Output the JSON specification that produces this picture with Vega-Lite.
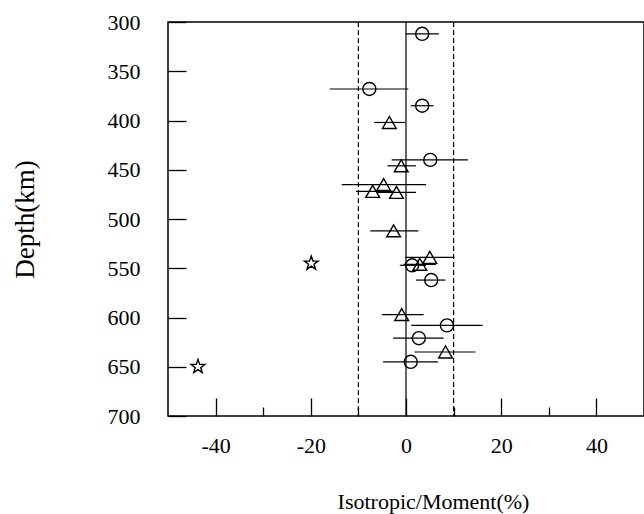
{
  "$schema": "https://vega.github.io/schema/vega-lite/v6.json",
  "width": 476,
  "height": 394,
  "autosize": {"type": "none"},
  "padding": {"left": 168, "top": 22, "right": 0, "bottom": 98},
  "background": "white",
  "config": {
    "view": {"stroke": "#000", "strokeWidth": 1.5},
    "font": "Liberation Serif"
  },
  "datasets": {
    "points": [
      {"type": "circle", "depth": 312, "value": 3.4, "lo": -0.1, "hi": 6.9},
      {"type": "circle", "depth": 368, "value": -7.7, "lo": -16.0, "hi": 0.5},
      {"type": "circle", "depth": 385, "value": 3.4, "lo": 1.0, "hi": 5.8},
      {"type": "circle", "depth": 440, "value": 5.1, "lo": -3.0, "hi": 13.0},
      {"type": "circle", "depth": 547, "value": 1.3, "lo": -1.3, "hi": 4.2},
      {"type": "circle", "depth": 562, "value": 5.3, "lo": 2.1, "hi": 8.3},
      {"type": "circle", "depth": 608, "value": 8.6, "lo": 1.1, "hi": 16.1},
      {"type": "circle", "depth": 621, "value": 2.7, "lo": -2.7, "hi": 7.9},
      {"type": "circle", "depth": 645, "value": 1.0, "lo": -4.8, "hi": 6.7},
      {"type": "triangle", "depth": 402, "value": -3.5, "lo": -6.7, "hi": -0.2},
      {"type": "triangle", "depth": 446, "value": -1.0, "lo": -3.9, "hi": 2.1},
      {"type": "triangle", "depth": 465, "value": -4.7, "lo": -13.5, "hi": 4.2},
      {"type": "triangle", "depth": 472, "value": -7.0, "lo": -10.5, "hi": -2.5},
      {"type": "triangle", "depth": 473, "value": -2.0, "lo": -6.0, "hi": 2.1},
      {"type": "triangle", "depth": 512, "value": -2.6, "lo": -7.5, "hi": 2.6},
      {"type": "triangle", "depth": 539, "value": 5.0, "lo": -0.2, "hi": 10.2},
      {"type": "triangle", "depth": 546, "value": 2.9, "lo": -0.5, "hi": 6.3},
      {"type": "triangle", "depth": 597, "value": -0.9, "lo": -5.1, "hi": 3.7},
      {"type": "triangle", "depth": 635, "value": 8.3, "lo": 1.8, "hi": 14.6},
      {"type": "star", "depth": 545, "value": -19.9},
      {"type": "star", "depth": 650, "value": -43.7}
    ],
    "refs": [
      {"x": -10, "style": "dashed"},
      {"x": 0, "style": "solid"},
      {"x": 10, "style": "dashed"}
    ]
  },
  "layer": [
    {
      "data": {"name": "refs"},
      "mark": {"type": "rule", "color": "black", "strokeWidth": 1.2},
      "encoding": {
        "x": {
          "field": "x",
          "type": "quantitative",
          "scale": {"domain": [-50, 50], "nice": false, "zero": false},
          "axis": {
            "values": [-40, -30, -20, -10, 0, 10, 20, 30, 40],
            "title": "Isotropic/Moment(%)",
            "grid": false,
            "domain": false,
            "ticks": true,
            "tickColor": "black",
            "tickWidth": 1.3,
            "tickSize": {"condition": {"test": "datum.value % 20 === 0", "value": -18}, "value": -9},
            "labelExpr": "datum.value % 20 === 0 ? '' + datum.value : ''",
            "labelFont": "Liberation Serif",
            "labelFontSize": 22,
            "labelColor": "black",
            "labelBaseline": "alphabetic",
            "labelPadding": 54,
            "titleFont": "Liberation Serif",
            "titleFontSize": 22,
            "titleFontWeight": "normal",
            "titleColor": "black",
            "titleX": 265,
            "titleY": 92,
            "titleAlign": "center",
            "titleBaseline": "alphabetic"
          }
        },
        "strokeDash": {
          "field": "style",
          "type": "nominal",
          "scale": {"domain": ["dashed", "solid"], "range": [[5, 3], [1, 0]]},
          "legend": null
        }
      }
    },
    {
      "data": {"name": "points"},
      "transform": [{"filter": "isValid(datum.lo)"}],
      "mark": {"type": "rule", "color": "black", "strokeWidth": 1.2},
      "encoding": {
        "x": {"field": "lo", "type": "quantitative"},
        "x2": {"field": "hi"},
        "y": {"field": "depth", "type": "quantitative"}
      }
    },
    {
      "data": {"name": "points"},
      "mark": {"type": "point", "filled": false, "strokeWidth": 1.4, "color": "black", "opacity": 1},
      "encoding": {
        "x": {"field": "value", "type": "quantitative"},
        "y": {
          "field": "depth",
          "type": "quantitative",
          "scale": {"domain": [300, 700], "reverse": true, "nice": false, "zero": false},
          "axis": {
            "values": [300, 350, 400, 450, 500, 550, 600, 650, 700],
            "title": "Depth(km)",
            "grid": false,
            "domain": false,
            "tickColor": "black",
            "tickWidth": 1.3,
            "tickSize": -18,
            "labelFont": "Liberation Serif",
            "labelFontSize": 22,
            "labelColor": "black",
            "labelAlign": "right",
            "labelBaseline": "middle",
            "labelPadding": 46,
            "titleFont": "Liberation Serif",
            "titleFontSize": 27,
            "titleFontWeight": "normal",
            "titleColor": "black",
            "titleX": -143,
            "titleY": 197,
            "titleAngle": -90,
            "titleAlign": "center",
            "titleBaseline": "middle"
          }
        },
        "shape": {
          "field": "type",
          "type": "nominal",
          "scale": {
            "domain": ["circle", "triangle", "star"],
            "range": ["circle", "triangle-up", "M0,-1L0.235,-0.324L0.951,-0.309L0.380,0.124L0.588,0.809L0,0.4L-0.588,0.809L-0.380,0.124L-0.951,-0.309L-0.235,-0.324Z"]
          },
          "legend": null
        },
        "size": {
          "field": "type",
          "type": "nominal",
          "scale": {"domain": ["circle", "triangle", "star"], "range": [170, 210, 190]},
          "legend": null
        }
      }
    }
  ]
}
